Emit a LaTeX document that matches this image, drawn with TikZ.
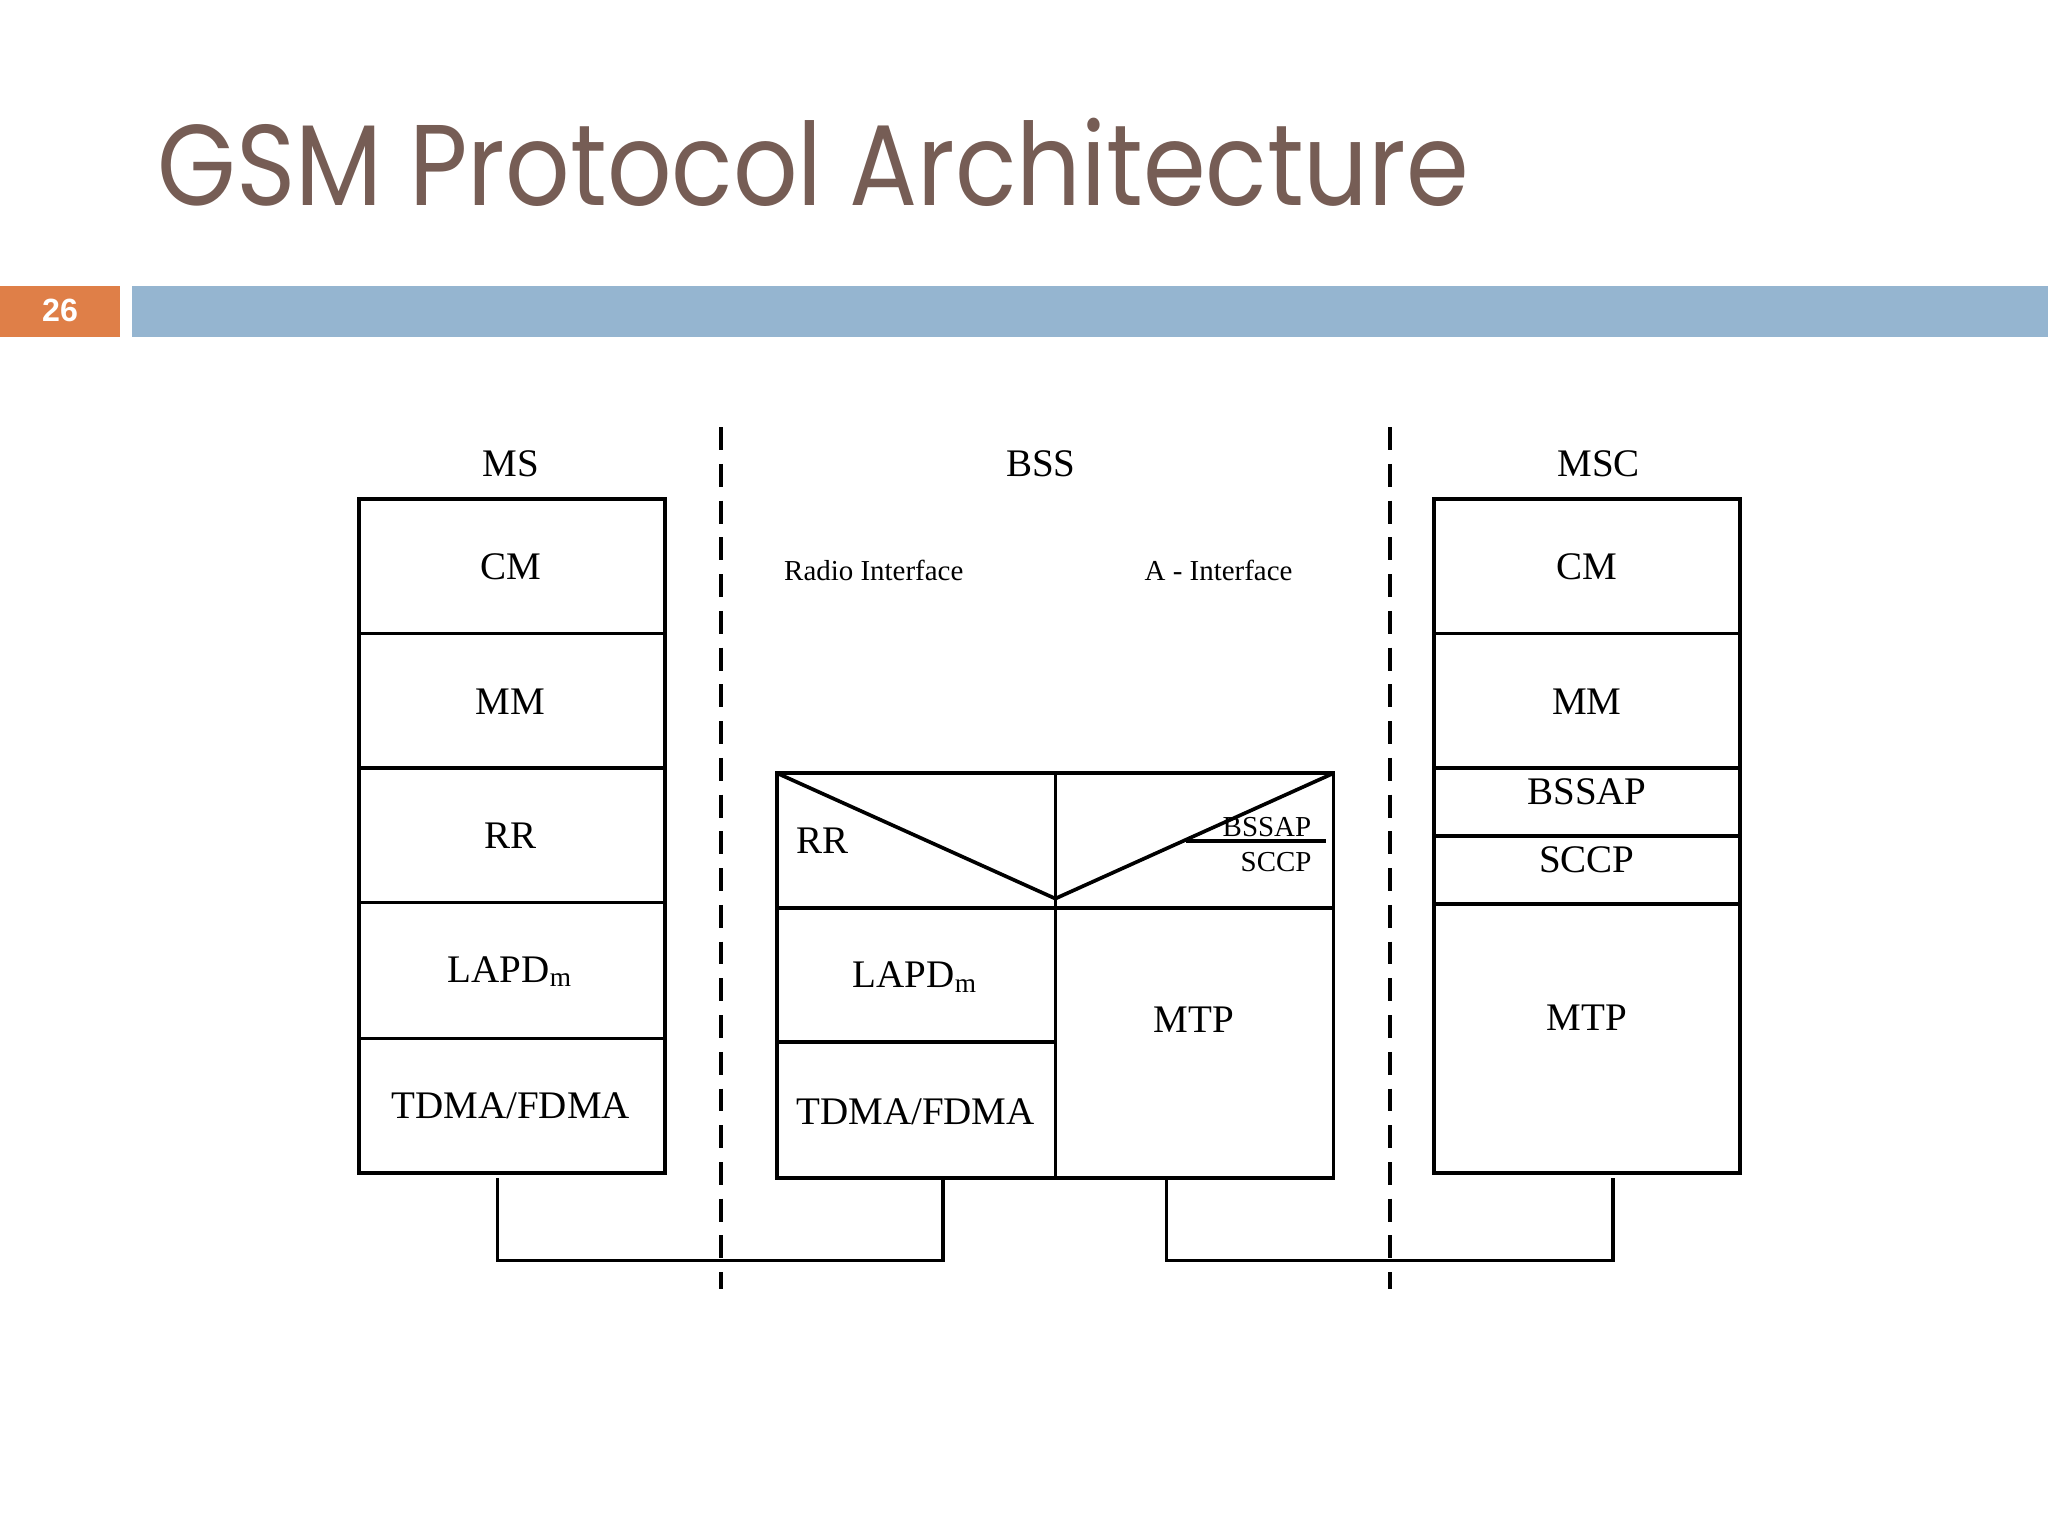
\documentclass[tikz,border=0pt]{standalone}
\usepackage{fontspec}
\setmainfont{Liberation Serif}
\newfontfamily\titlefont{Poppins}
\newfontfamily\numfont{Liberation Sans}
\definecolor{titlec}{HTML}{765D55}
\definecolor{orangec}{HTML}{DF7F48}
\definecolor{bluec}{HTML}{95B5D0}
\tikzset{
  box/.style={draw, line width=0.8pt},
  lab/.style={font=\fontsize{8.5}{9}\selectfont, inner sep=0pt},
  slab/.style={font=\fontsize{6.3}{7}\selectfont, inner sep=0pt},
  ln/.style={line width=0.8pt},
  dsh/.style={line width=0.8pt, dash pattern=on 5pt off 3pt}
}
\begin{document}
\begin{tikzpicture}[x=0.01cm,y=-0.01cm]
\useasboundingbox (0,0) rectangle (1568,1176);
\node[anchor=base west, inner sep=0pt, text=titlec, xscale=0.88, font=\titlefont\fontsize{25}{28}\selectfont] (title) at (120,157) {GSM Protocol Architecture};
\fill[orangec] (0,219) rectangle (92,258);
\node[text=white, font=\numfont\bfseries\fontsize{7}{8}\selectfont] (num) at (46,238) {26};
\fill[bluec] (101,219) rectangle (1568,258);
% dashed separators
\draw[dsh] (552,327) -- (552,987);
\draw[dsh] (1064,327) -- (1064,987);
% MS
\node[lab] (ms) at (391,355) {MS};
\draw[box] (275,382) rectangle (509,898);
\foreach \y in {485,588,691,795} \draw[ln] (275,\y) -- (509,\y);
\node[lab] (mscm) at (391,434) {CM};
\node[lab] (msmm) at (391,537) {MM};
\node[lab] (msrr) at (391,640) {RR};
\node[lab] (mslap) at (391,744) {LAPD\textsubscript{m}};
\node[lab] (mstd) at (391,847) {TDMA/FDMA};
% BSS
\node[lab] (bss) at (797,355) {BSS};
\node[slab] (radio) at (669,437) {Radio Interface};
\node[slab] (aif) at (933,437) {A - Interface};
\draw[box] (595,592) rectangle (1021,902);
\draw[ln] (808,592) -- (808,902);
\draw[ln] (595,695) -- (1021,695);
\draw[ln] (595,798) -- (808,798);
\draw[ln] (595,592) -- (808,688) -- (1021,592);
\draw[ln] (908,644) -- (1015,644);
\node[lab] (bssrr) at (630,644) {RR};
\node[slab] (bssbssap) at (970,633) {BSSAP};
\node[slab] (bsssccp) at (977,660) {SCCP};
\node[lab] (bsslap) at (701,748) {LAPD\textsubscript{m}};
\node[lab] (bsstd) at (701,851) {TDMA/FDMA};
\node[lab] (bssmtp) at (914,781) {MTP};
% MSC
\node[lab] (msc) at (1224,355) {MSC};
\draw[box] (1098,382) rectangle (1332,898);
\foreach \y in {485,588,640,692} \draw[ln] (1098,\y) -- (1332,\y);
\node[lab] (msccm) at (1215,434) {CM};
\node[lab] (mscmm) at (1215,537) {MM};
\node[lab] (mscbssap) at (1215,606) {BSSAP};
\node[lab] (mscsccp) at (1215,658) {SCCP};
\node[lab] (mscmtp) at (1215,779) {MTP};
% connectors
\coordinate (c1) at (381,902);
\coordinate (c2) at (722,902);
\coordinate (c3) at (893,902);
\coordinate (c4) at (1235,902);
\draw[ln] (c1) -- (381,965) -- (722,965) -- (c2);
\draw[ln] (c3) -- (893,965) -- (1235,965) -- (c4);
\end{tikzpicture}
\end{document}
